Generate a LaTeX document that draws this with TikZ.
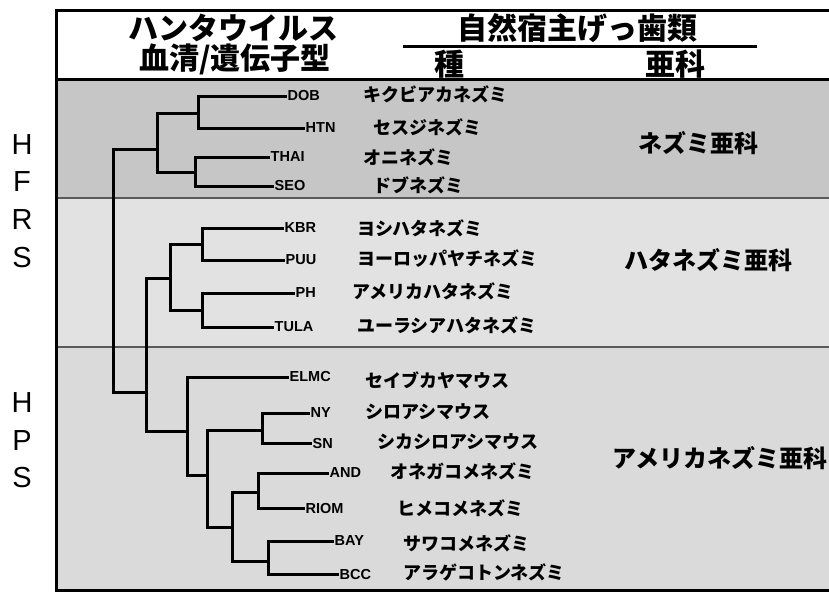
\documentclass[tikz,border=0pt]{standalone}
\usepackage{fontspec}
\setmainfont{Liberation Sans}
\newfontfamily\jp{Noto Sans CJK JP}
\definecolor{bandA}{RGB}{198,198,198}
\definecolor{bandB}{RGB}{226,226,226}
\definecolor{bandC}{RGB}{218,218,218}
\definecolor{sepgray}{RGB}{90,90,90}
\begin{document}
\begin{tikzpicture}[x=1pt,y=-1pt,
  br/.style={line width=3pt, line cap=rect, line join=miter},
  frame/.style={line width=3pt},
  leaf/.style={anchor=west, inner sep=2.5pt, font=\bfseries\fontsize{14.5}{15}\selectfont},
  sp/.style={anchor=west, inner sep=0pt, font=\jp\bfseries\fontsize{18}{18}\selectfont},
  subf/.style={inner sep=0pt, font=\jp\bfseries\fontsize{24}{24}\selectfont},
  head/.style={inner sep=0pt, font=\jp\bfseries\fontsize{30}{30}\selectfont},
  grp/.style={inner sep=0pt, font=\fontsize{29}{29}\selectfont}]
\useasboundingbox (0,0) rectangle (829,592);
\clip (0,0) rectangle (829,592);
% bands
\fill[white] (0,0) rectangle (829,592);
\fill[bandA] (56,79) rectangle (829,198);
\fill[bandB] (56,198) rectangle (829,347);
\fill[bandC] (56,347) rectangle (829,590);
\draw[sepgray, line width=1.8pt] (56,198) -- (829,198);
\draw[sepgray, line width=1.8pt] (56,347) -- (829,347);
% frame
\draw[frame] (832,10) -- (56,10) -- (56,590) -- (832,590);
\draw[frame] (56,79) -- (832,79);
% header
\node[head] (h1) at (233,28) {ハンタウイルス};
\node[head] (h2) at (235,59) {血清/遺伝子型};
\node[head] (h3) at (577,28) {自然宿主げっ歯類};
\coordinate (hl1) at (403,46);
\coordinate (hl2) at (757,46);
\draw[line width=3pt] (hl1) -- (hl2);
\node[head] (h4) at (449,64) {種};
\node[head] (h5) at (675,64) {亜科};
% group letters
\node[grp] (g1) at (22,145) {H};
\node[grp] (g2) at (22,182) {F};
\node[grp] (g3) at (22,220) {R};
\node[grp] (g4) at (22,258) {S};
\node[grp] (g5) at (22,403) {H};
\node[grp] (g6) at (22,441) {P};
\node[grp] (g7) at (22,478) {S};
% leaves
\node[leaf] (DOB) at (285,96) {DOB};
\node[leaf] (HTN) at (303,128) {HTN};
\node[leaf] (THAI) at (268,157) {THAI};
\node[leaf] (SEO) at (272,186) {SEO};
\node[leaf] (KBR) at (282,228) {KBR};
\node[leaf] (PUU) at (283,260) {PUU};
\node[leaf] (PH) at (293,293) {PH};
\node[leaf] (TULA) at (272,327) {TULA};
\node[leaf] (ELMC) at (287,377) {ELMC};
\node[leaf] (NY) at (308,413) {NY};
\node[leaf] (SN) at (310,443) {SN};
\node[leaf] (AND) at (327,473) {AND};
\node[leaf] (RIOM) at (303,508) {RIOM};
\node[leaf] (BAY) at (332,541) {BAY};
\node[leaf] (BCC) at (337,574) {BCC};
% internal nodes
\coordinate (nR) at (113,270);
\coordinate (nA) at (157,149);
\coordinate (nA1) at (198,113);
\coordinate (nA2) at (195,172);
\coordinate (nB) at (146,392);
\coordinate (nC) at (170,278);
\coordinate (nC1) at (202,244);
\coordinate (nC2) at (202,310);
\coordinate (nD) at (187,431);
\coordinate (nE) at (207,475);
\coordinate (nF) at (262,430);
\coordinate (nG) at (232,527);
\coordinate (nH) at (258,492);
\coordinate (nI) at (268,561);
% tree
\draw[br] (nR) |- (nA);
\draw[br] (nR) |- (nB);
\draw[br] (nA) |- (nA1);
\draw[br] (nA) |- (nA2);
\draw[br] (nA1) |- (DOB.west);
\draw[br] (nA1) |- (HTN.west);
\draw[br] (nA2) |- (THAI.west);
\draw[br] (nA2) |- (SEO.west);
\draw[br] (nB) |- (nC);
\draw[br] (nB) |- (nD);
\draw[br] (nC) |- (nC1);
\draw[br] (nC) |- (nC2);
\draw[br] (nC1) |- (KBR.west);
\draw[br] (nC1) |- (PUU.west);
\draw[br] (nC2) |- (PH.west);
\draw[br] (nC2) |- (TULA.west);
\draw[br] (nD) |- (ELMC.west);
\draw[br] (nD) |- (nE);
\draw[br] (nE) |- (nF);
\draw[br] (nE) |- (nG);
\draw[br] (nF) |- (NY.west);
\draw[br] (nF) |- (SN.west);
\draw[br] (nG) |- (nH);
\draw[br] (nG) |- (nI);
\draw[br] (nH) |- (AND.west);
\draw[br] (nH) |- (RIOM.west);
\draw[br] (nI) |- (BAY.west);
\draw[br] (nI) |- (BCC.west);
% species
\node[sp] (s1) at (363,94) {キクビアカネズミ};
\node[sp] (s2) at (373,127) {セスジネズミ};
\node[sp] (s3) at (363,157) {オニネズミ};
\node[sp] (s4) at (373,185) {ドブネズミ};
\node[sp] (s5) at (357,228) {ヨシハタネズミ};
\node[sp] (s6) at (357,259) {ヨーロッパヤチネズミ};
\node[sp] (s7) at (352,291) {アメリカハタネズミ};
\node[sp] (s8) at (357,325) {ユーラシアハタネズミ};
\node[sp] (s9) at (365,380) {セイブカヤマウス};
\node[sp] (s10) at (365,412) {シロアシマウス};
\node[sp] (s11) at (377,442) {シカシロアシマウス};
\node[sp] (s12) at (390,471) {オネガコメネズミ};
\node[sp] (s13) at (397,508) {ヒメコメネズミ};
\node[sp] (s14) at (403,543) {サワコメネズミ};
\node[sp] (s15) at (403,572) {アラゲコトンネズミ};
% subfamilies
\node[subf] (f1) at (698,143) {ネズミ亜科};
\node[subf] (f2) at (708,260) {ハタネズミ亜科};
\node[subf, anchor=west] (f3) at (612,458) {アメリカネズミ亜科};
\end{tikzpicture}
\end{document}
